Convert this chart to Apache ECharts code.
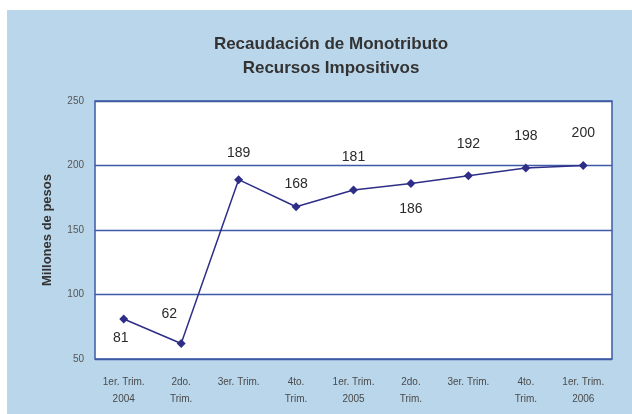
<!DOCTYPE html>
<html>
<head>
<meta charset="utf-8">
<script src="https://cdn.jsdelivr.net/npm/echarts@6/dist/echarts.min.js"></script>
<style>
html,body{margin:0;padding:0;background:#fff;}
#c{width:632px;height:414px;}
</style>
</head>
<body>
<div id="c"></div>
<script>
var categories = ["1er. Trim.\n2004", "2do.\nTrim.", "3er. Trim.", "4to.\nTrim.", "1er. Trim.\n2005", "2do.\nTrim.", "3er. Trim.", "4to.\nTrim.", "1er. Trim.\n2006"];
var values = [81, 62, 189, 168, 181, 186, 192, 198, 200];
var titleLines = ["Recaudación de Monotributo", "Recursos Impositivos"];
var yAxisName = "Millones de pesos";

// label placement (style only, relative to each marker)
var labelOffsets = [[-3, 19], [-12, -29], [0, -27], [0, -23], [0, -33], [0, 26], [0, -32], [0, -32], [0, -32]];

var chart = echarts.init(document.getElementById('c'), null, {renderer: 'canvas'});
var FONT = "'Liberation Sans', Arial, sans-serif";

var option = {
  backgroundColor: '#ffffff',
  animation: false,
  graphic: [{
    type: 'rect', z: -10, silent: true,
    shape: {x: 7, y: 10, width: 625, height: 404},
    style: {fill: '#bad6eb'}
  }],
  title: {
    text: titleLines.join('\n'),
    left: 326, top: 27, textAlign: 'center',
    textStyle: {fontFamily: FONT, fontSize: 17, fontWeight: 'bold', color: '#333333', lineHeight: 24}
  },
  grid: {
    left: 95, right: 20, top: 101, bottom: 55,
    show: true, backgroundColor: '#ffffff', borderColor: '#3d5aa6', borderWidth: 1.5
  },
  xAxis: {
    type: 'category',
    data: categories,
    boundaryGap: true,
    axisLine: {show: false},
    axisTick: {show: false},
    axisLabel: {fontFamily: FONT, fontSize: 10, color: '#4a4a4a', lineHeight: 17, margin: 15, interval: 0}
  },
  yAxis: {
    type: 'value',
    min: 50, max: 250, interval: 50,
    name: yAxisName,
    nameLocation: 'middle',
    nameGap: 41,
    nameTextStyle: {fontFamily: FONT, fontSize: 13, fontWeight: 'bold', color: '#333333'},
    axisLine: {show: false},
    axisTick: {show: false},
    axisLabel: {fontFamily: FONT, fontSize: 10, color: '#555555', margin: 11},
    splitLine: {lineStyle: {color: '#3d5aa6', width: 1.3}}
  },
  series: [{
    type: 'line',
    data: values.map(function (v, i) {
      return {value: v, label: {offset: labelOffsets[i]}};
    }),
    symbol: 'diamond',
    symbolSize: 9,
    lineStyle: {color: '#2e2e88', width: 1.5},
    itemStyle: {color: '#2e2e88'},
    label: {
      show: true, position: 'inside',
      fontFamily: FONT, fontSize: 14, color: '#2a2a2a'
    }
  }]
};
chart.setOption(option);
</script>
</body>
</html>
